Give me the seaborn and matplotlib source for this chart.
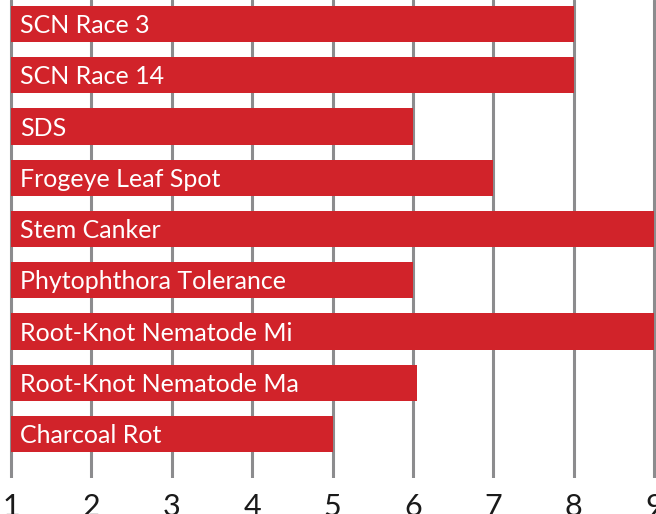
import matplotlib
matplotlib.use("Agg")
import matplotlib.pyplot as plt
import seaborn as sns
import pandas as pd

categories = ["SCN Race 3", "SCN Race 14", "SDS", "Frogeye Leaf Spot", "Stem Canker",
              "Phytophthora Tolerance", "Root-Knot Nematode Mi", "Root-Knot Nematode Ma",
              "Charcoal Rot"]
values = [8, 8, 6, 7, 9, 6, 9, 6.05, 5]
tick_labels = ["1", "2", "3", "4", "5", "6", "7", "8", "9"]
scale_min = 1

sns.set_theme(style="white")
plt.rcParams["font.family"] = ["Lato", "DejaVu Sans"]

df = pd.DataFrame({"trait": categories, "score": [v - scale_min for v in values]})

fig = plt.figure(figsize=(6.56, 5.14), dpi=100)
ax = fig.add_axes([0, 36 / 514, 1, 478 / 514])

for i in range(len(tick_labels)):
    ax.axvline(i, color="#8c8c8e", lw=2.2, zorder=0)

sns.barplot(data=df, x="score", y="trait", orient="h", color="#d1232a",
            width=0.71, saturation=1, linewidth=0, edgecolor="none", ax=ax, zorder=2)

for i, name in enumerate(categories):
    ax.text(0.11, i + 0.03, name, color="white", va="center", ha="left",
            fontsize=18, zorder=3)

ax.set_xlim(-11 / 80.375, 8 + 2 / 80.375)
ax.set_ylim(8 + 44 / 51.25, -24 / 51.25)
ax.set_xticks(range(len(tick_labels)))
ax.set_xticklabels(tick_labels, fontsize=22, color="#1a1a1a", fontweight="normal")
ax.tick_params(axis="x", length=0, pad=11)
ax.set_yticks([])
ax.set_xlabel("")
ax.set_ylabel("")
for s in ax.spines.values():
    s.set_visible(False)

fig.savefig("out.png", dpi=100)
